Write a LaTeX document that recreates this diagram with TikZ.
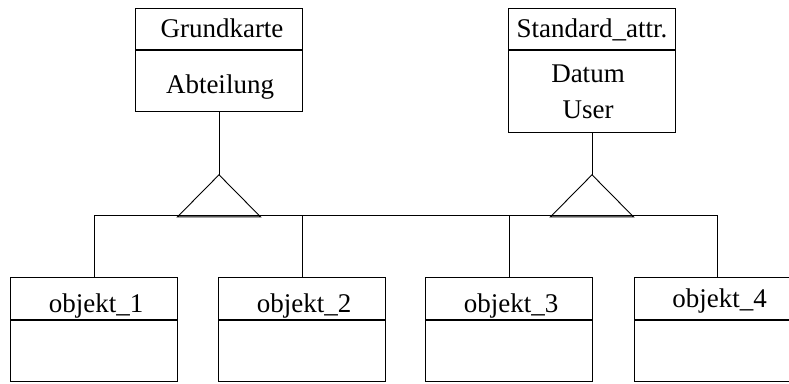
\documentclass[tikz,border=0pt]{standalone}
\usepackage{fontspec}
\setmainfont{Liberation Serif}
\usetikzlibrary{calc}

\tikzset{
  cls/.style={draw, minimum width=167pt, inner sep=0pt, anchor=north},
  clsname/.style={anchor=base, inner sep=0pt, font=\fontsize{27}{32}\selectfont},
}

\begin{document}
\begin{tikzpicture}[x=1pt,y=-1pt,line width=0.9pt]
\useasboundingbox (0,0) rectangle (789,383);
\clip (0,0) rectangle (789,383);

% superclasses
\node[cls,minimum height=41pt] (gkhead) at (219,8) {};
\node[cls,minimum height=61pt] (gkbody) at (gkhead.south) {};
\node[clsname] (gkname) at (222,37) {Grundkarte};
\node[clsname] (gkattr) at (220,93) {Abteilung};

\node[cls,minimum height=41pt] (sthead) at (592,8) {};
\node[cls,minimum height=82pt] (stbody) at (sthead.south) {};
\node[clsname] (stname) at (592,37) {Standard\_attr.};
\node[clsname] (stdatum) at (588,82) {Datum};
\node[clsname] (stuser) at (588,118) {User};

% subclasses
\foreach \i/\x/\b in {1/94/312,2/302/312,3/509/312,4/717.5/307}{
  \node[cls,minimum height=42pt] (o\i head) at (\x,277) {};
  \node[cls,minimum height=61pt] (o\i body) at (o\i head.south) {};
  \node[clsname] (o\i name) at (\x+2,\b) {objekt\_\i};
}

% inheritance triangles and bus
\coordinate (bus) at (0,215);
\coordinate (gkapex) at ($(gkbody.south)+(0,63)$);
\coordinate (stapex) at ($(stbody.south)+(0,42)$);
\draw (gkbody.south) -- (gkapex);
\draw (stbody.south) -- (stapex);
\draw (gkapex) -- ++(-41.5,42) -- ++(83,0) -- cycle;
\draw (stapex) -- ++(-41.5,42) -- ++(83,0) -- cycle;
\draw (o1head.north |- bus) -- (o4head.north |- bus);
\foreach \i in {1,...,4}
  \draw (o\i head.north) -- (o\i head.north |- bus);
\end{tikzpicture}
\end{document}
